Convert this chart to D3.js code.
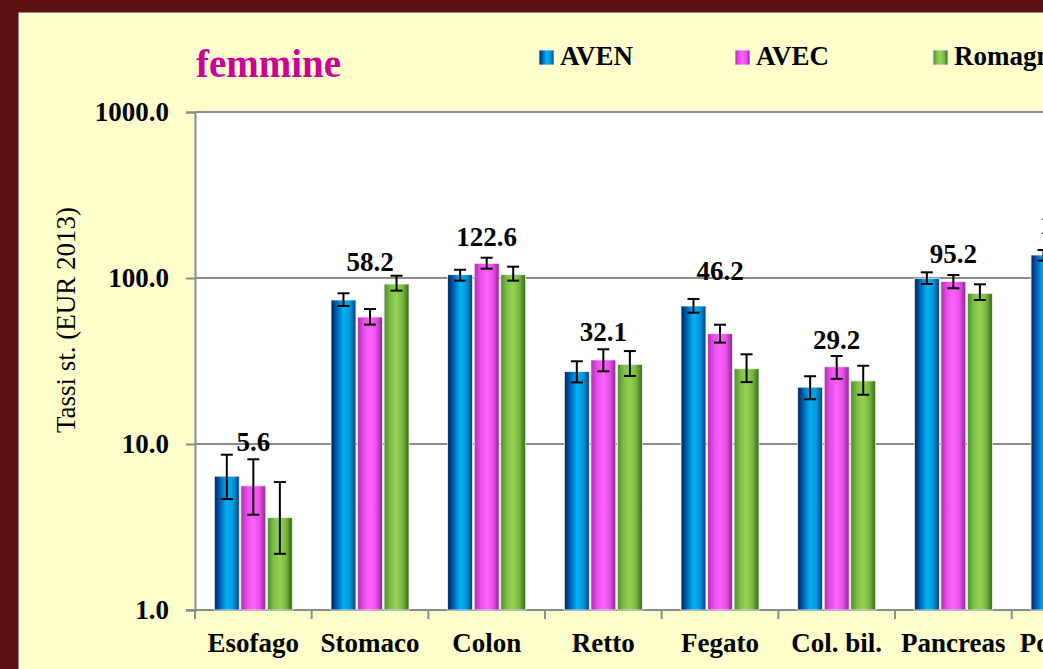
<!DOCTYPE html>
<html>
<head>
<meta charset="utf-8">
<script src="https://cdn.jsdelivr.net/npm/d3@7"></script>
<style>
  html, body { margin: 0; padding: 0; background: #5c1014; overflow: hidden; }
  svg { display: block; font-family: "Liberation Serif", "Times New Roman", serif; }
</style>
</head>
<body>
<svg id="chart" width="1043" height="669"></svg>
<script>
// categories (the chart is cut on the right, Polmone is only partly visible)
const categories = ["Esofago", "Stomaco", "Colon", "Retto", "Fegato", "Col. bil.", "Pancreas", "Polmone"];
const series = ["AVEN", "AVEC", "Romagna"];

// standardised rates
const aven    = [6.4, 73.7, 104.7, 27.3, 67.8, 22.0, 99.6, 137.6];
const avec    = [5.6, 58.2, 122.6, 32.1, 46.2, 29.2, 95.2, 128.4];
const romagna = [3.6, 92.0, 104.7, 30.2, 28.4, 24.0, 80.9, 120.0];

// confidence limits
const avenLow     = [4.66, 67.8, 96.4, 23.5, 61.8, 18.6, 92.0, 127.3];
const avenHigh    = [8.62, 80.9, 112.1, 31.5, 74.7, 25.6, 108.2, 147.5];
const avecLow     = [3.75, 52.4, 113.8, 27.4, 40.8, 24.7, 86.7, 118.0];
const avecHigh    = [8.09, 65.0, 132.5, 37.2, 52.3, 33.9, 104.2, 139.0];
const romagnaLow  = [2.18, 83.9, 96.4, 25.7, 23.6, 19.8, 73.7, 110.0];
const romagnaHigh = [5.90, 103.2, 117.0, 36.3, 34.7, 29.6, 91.6, 131.0];

// hidden series that carries the AVEC labels
const labelAnchor = [10.3, 124.8, 176.6, 47.3, 110.2, 42.3, 139.5, 208.6];

const yTicks = [1, 10, 100, 1000];

const W = 1043, H = 669;
const plot = { left: 195, top: 112, bottom: 610 };
const bandW = 116.67;
const FS = "27px";

const svg = d3.select("#chart");

// gradients for the cylinder-like bars
const defs = svg.append("defs");
const gradStops = {
  AVEN:    ["#00205c", "#0068b8", "#00b2f0", "#0098dc", "#003c80"],
  AVEC:    ["#b22cb2", "#e84ee8", "#ff62ff", "#e650e6", "#8e2490"],
  Romagna: ["#4e8a2a", "#7cc046", "#94d254", "#78b640", "#2f6a18"]
};
series.forEach(s => {
  const g = defs.append("linearGradient")
    .attr("id", "grad-" + s)
    .attr("x1", "0%").attr("x2", "100%").attr("y1", "0%").attr("y2", "0%");
  const offs = [0, 0.25, 0.5, 0.75, 1];
  gradStops[s].forEach((c, i) => {
    g.append("stop").attr("offset", offs[i]).attr("stop-color", c);
  });
});

// frame and panel
svg.append("rect").attr("width", W).attr("height", H).attr("fill", "#5c1014");
svg.append("rect")
  .attr("x", 18.5).attr("y", 12.5)
  .attr("width", W + 10).attr("height", H + 10)
  .attr("fill", "#ffffcc")
  .attr("stroke", "#8a8a8a").attr("stroke-width", 1);

// scales
const x0 = d3.scaleBand()
  .domain(categories)
  .range([plot.left, plot.left + bandW * categories.length]);

const x1 = d3.scaleBand()
  .domain(series)
  .range([x0.bandwidth() / 2 - 39, x0.bandwidth() / 2 + 39])
  .paddingInner(0.06);

const y = d3.scaleLog()
  .domain([1, 1000])
  .range([plot.bottom, plot.top]);

// plot area
svg.append("rect")
  .attr("x", plot.left).attr("y", plot.top)
  .attr("width", W - plot.left + 20).attr("height", plot.bottom - plot.top)
  .attr("fill", "#ffffff");

// gridlines
svg.append("g")
  .selectAll("line")
  .data(yTicks.filter(d => d > 1))
  .enter()
  .append("line")
  .attr("x1", plot.left).attr("x2", W + 10)
  .attr("y1", d => y(d)).attr("y2", d => y(d))
  .attr("stroke", "#8c8c8c")
  .attr("stroke-width", 2);

// y axis
const yAxis = svg.append("g")
  .attr("transform", "translate(" + plot.left + ",0)")
  .call(d3.axisLeft(y).tickValues(yTicks).tickFormat(d3.format(".1f")).tickSize(9).tickPadding(17));
yAxis.select(".domain").attr("stroke", "#8c8c8c").attr("stroke-width", 2);
yAxis.selectAll(".tick line").attr("stroke", "#8c8c8c").attr("stroke-width", 2);
yAxis.selectAll(".tick text")
  .attr("fill", "#000")
  .style("font-size", FS)
  .style("font-weight", "bold")
  .style("font-family", "'Liberation Serif', serif");

// x axis line and category boundary ticks
svg.append("line")
  .attr("x1", plot.left - 9).attr("x2", W + 10)
  .attr("y1", plot.bottom).attr("y2", plot.bottom)
  .attr("stroke", "#8c8c8c").attr("stroke-width", 2);

svg.append("g")
  .selectAll("line")
  .data(categories)
  .enter()
  .append("line")
  .attr("x1", d => x0(d)).attr("x2", d => x0(d))
  .attr("y1", plot.bottom).attr("y2", plot.bottom + 9)
  .attr("stroke", "#8c8c8c").attr("stroke-width", 2);

svg.append("g")
  .selectAll("text")
  .data(categories)
  .enter()
  .append("text")
  .attr("x", d => x0(d) + x0.bandwidth() / 2)
  .attr("y", 652)
  .attr("text-anchor", "middle")
  .style("font-size", FS)
  .style("font-weight", "bold")
  .text(d => d);

// bars
const rows = categories.map((c, i) => ({
  cat: c,
  vals: [
    { s: "AVEN", v: aven[i], lo: avenLow[i], hi: avenHigh[i] },
    { s: "AVEC", v: avec[i], lo: avecLow[i], hi: avecHigh[i] },
    { s: "Romagna", v: romagna[i], lo: romagnaLow[i], hi: romagnaHigh[i] }
  ]
}));

const groups = svg.append("g")
  .selectAll("g")
  .data(rows)
  .enter()
  .append("g")
  .attr("transform", d => "translate(" + x0(d.cat) + ",0)");

groups.selectAll("rect")
  .data(d => d.vals)
  .enter()
  .append("rect")
  .attr("x", d => x1(d.s))
  .attr("y", d => y(d.v))
  .attr("width", x1.bandwidth())
  .attr("height", d => plot.bottom - y(d.v))
  .attr("fill", d => "url(#grad-" + d.s + ")")
  .attr("stroke", "#f4f4f4")
  .attr("stroke-width", 0.8);

// error bars
const capW = 12;
const err = groups.selectAll("g.err")
  .data(d => d.vals)
  .enter()
  .append("g")
  .attr("class", "err")
  .attr("stroke", "#000")
  .attr("stroke-width", 2);

err.append("line")
  .attr("x1", d => x1(d.s) + x1.bandwidth() / 2)
  .attr("x2", d => x1(d.s) + x1.bandwidth() / 2)
  .attr("y1", d => y(d.lo)).attr("y2", d => y(d.hi));
err.append("line")
  .attr("x1", d => x1(d.s) + x1.bandwidth() / 2 - capW / 2)
  .attr("x2", d => x1(d.s) + x1.bandwidth() / 2 + capW / 2)
  .attr("y1", d => y(d.hi)).attr("y2", d => y(d.hi));
err.append("line")
  .attr("x1", d => x1(d.s) + x1.bandwidth() / 2 - capW / 2)
  .attr("x2", d => x1(d.s) + x1.bandwidth() / 2 + capW / 2)
  .attr("y1", d => y(d.lo)).attr("y2", d => y(d.lo));

// AVEC value labels
svg.append("g")
  .selectAll("text")
  .data(categories)
  .enter()
  .append("text")
  .attr("x", d => x0(d) + x0.bandwidth() / 2)
  .attr("y", (d, i) => y(labelAnchor[i]))
  .attr("dy", "0.35em")
  .attr("text-anchor", "middle")
  .style("font-size", FS)
  .style("font-weight", "bold")
  .text((d, i) => d3.format(".1f")(avec[i]));

// y axis title
svg.append("text")
  .attr("transform", "translate(75,320) rotate(-90)")
  .attr("text-anchor", "middle")
  .style("font-size", FS)
  .text("Tassi st. (EUR 2013)");

// title
svg.append("text")
  .attr("x", 196).attr("y", 77)
  .attr("fill", "#cc0099")
  .style("font-size", "39px")
  .style("font-weight", "bold")
  .text("femmine");

// legend
const legendX = [539, 735, 933];
const legend = svg.append("g")
  .selectAll("g")
  .data(series)
  .enter()
  .append("g")
  .attr("transform", (d, i) => "translate(" + legendX[i] + ",50)");
legend.append("rect")
  .attr("width", 15).attr("height", 15)
  .attr("fill", d => "url(#grad-" + d + ")")
  .attr("stroke", "#f4f4f4").attr("stroke-width", 0.8);
legend.append("text")
  .attr("x", 21).attr("y", 15)
  .style("font-size", FS)
  .style("font-weight", "bold")
  .text(d => d);
</script>
</body>
</html>
